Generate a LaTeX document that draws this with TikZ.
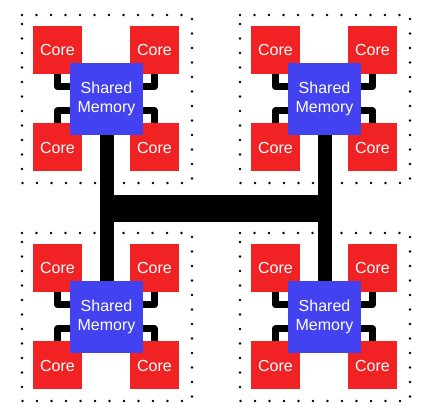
\documentclass[tikz,border=0pt]{standalone}
\usepackage{fontspec}
\setmainfont{Liberation Sans}
\usetikzlibrary{calc}
\definecolor{corered}{RGB}{240,34,36}
\definecolor{memblue}{RGB}{66,66,240}
\begin{document}
\begin{tikzpicture}[x=1pt,y=1pt,
  core/.style={fill=corered,minimum width=49pt,minimum height=48pt,inner sep=0pt,
    text=white,font=\fontsize{16}{19}\selectfont},
  mem/.style={fill=memblue,minimum width=73pt,minimum height=72pt,inner sep=0pt,
    text=white,align=center,font=\fontsize{16}{19}\selectfont},
  link/.style={line width=7pt,line join=round},
  trunk/.style={line width=14pt},
  bar/.style={line width=27pt,shorten <=-7pt,shorten >=-7pt},
  dotbox/.style={line width=2.6pt,line cap=round,dash pattern=on 0pt off 14.5pt}]
\useasboundingbox (0,0) rectangle (425,414);
\fill[white] (0,0) rectangle (425,414);
\foreach \q/\dx/\dy in {a/0/0, b/218/0, c/0/-218, d/218/-218} {
  \begin{scope}[shift={(\dx,\dy)}]
    \draw[dotbox] (22,399) -- (192,399) -- (192,231) -- (22,231) -- cycle;
    \node[core] (\q1) at (57.5,364) {Core};
    \node[core] (\q2) at (154.5,364) {Core};
    \node[core] (\q3) at (57.5,266.5) {Core};
    \node[core] (\q4) at (154.5,266.5) {Core};
    \node[mem] (\q m) at (106.5,315) {Shared\\Memory};
    \draw[link] (\q1.south) |- ($(\q m.west)+(0,12)$);
    \draw[link] (\q3.north) |- ($(\q m.west)+(0,-12)$);
    \draw[link] (\q2.south) |- ($(\q m.east)+(0,12)$);
    \draw[link] (\q4.north) |- ($(\q m.east)+(0,-12)$);
  \end{scope}
}
\draw[trunk] (am.south) -- (cm.north);
\draw[trunk] (bm.south) -- (dm.north);
\coordinate (hl) at (106.5,205.5);
\coordinate (hr) at (324.5,205.5);
\draw[bar] (hl) -- (hr);
\end{tikzpicture}
\end{document}
